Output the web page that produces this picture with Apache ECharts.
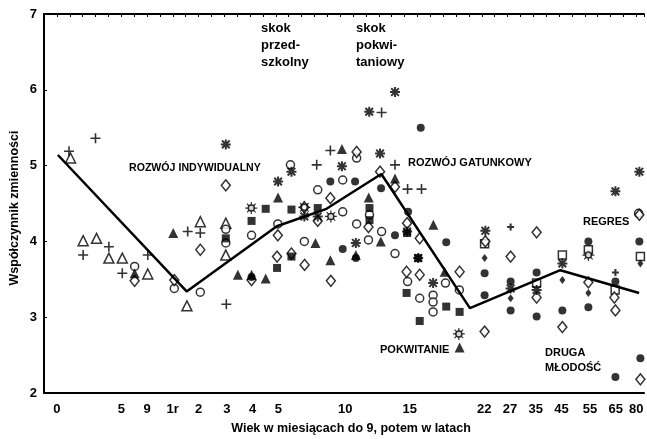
<!DOCTYPE html>
<html><head><meta charset="utf-8">
<script src="https://cdn.jsdelivr.net/npm/echarts@6/dist/echarts.min.js"></script>
<style>html,body{margin:0;padding:0;background:#fff}#c{width:647px;height:439px}</style>
</head><body><div id="c"></div>
<script>
// x positions are in axis units (one unit = one labelled age step)
const xTickLabels = ['0','5','9','1r','2','3','4','5','10','15','22','27','35','45','55','65','80'];
const xTickPos = [0.5,3.0,4.0,5.0,6.0,7.1,8.1,9.1,11.7,14.2,17.1,18.1,19.1,20.1,21.2,22.2,23.0];
const yTicks = [2,3,4,5,6,7];

const trendLine = [[0.54,5.14],[5.54,3.34],[9.04,4.20],[10.97,4.43],[13.10,4.89],[16.54,3.12],[20.05,3.62],[23.11,3.32]];

const openTriangle = [[1.03,5.10],[1.52,4.01],[2.04,4.04],[2.52,3.78],[3.04,3.78],[4.03,3.57],[5.55,3.15],[6.07,4.26],[7.06,3.82],[7.06,4.24]];
const plusMark = [[0.97,5.19],[2.00,5.36],[1.52,3.82],[2.52,3.93],[3.04,3.58],[4.03,3.82],[5.58,4.13],[6.07,4.11],[7.08,3.17],[11.12,5.20],[10.59,5.01],[13.11,5.70],[13.63,5.01],[14.12,4.69],[14.66,4.69]];
const smallPlus = [[18.12,4.19],[22.19,3.59]];
const openCircle = [[3.52,3.67],[5.06,3.38],[6.07,3.33],[7.06,3.98],[7.06,4.16],[8.06,4.08],[9.08,4.23],[9.57,5.01],[11.60,4.81],[10.63,4.68],[12.14,5.10],[11.60,4.39],[12.14,4.23],[13.11,4.13],[12.60,4.02],[13.63,3.84],[14.12,3.47],[14.59,3.25],[15.11,3.29],[15.11,3.20],[15.11,3.07],[15.59,3.45],[16.13,3.36],[23.09,4.37],[10.11,4.00],[12.64,4.35]];
const openDiamond = [[3.52,3.48],[5.06,3.49],[6.07,3.89],[7.06,4.74],[8.06,3.49],[9.08,4.08],[9.05,3.80],[9.61,3.84],[10.12,3.69],[11.14,3.48],[11.12,4.57],[12.14,5.18],[13.05,4.92],[13.63,4.72],[10.63,4.27],[10.11,4.45],[12.60,4.19],[14.10,4.24],[14.59,4.04],[14.08,3.60],[14.59,3.56],[16.14,3.60],[17.14,4.00],[19.13,4.12],[18.12,3.80],[17.11,2.81],[19.13,3.26],[20.13,2.87],[21.14,3.46],[22.15,3.26],[22.19,3.09],[23.12,4.35],[23.16,2.18]];
const filledTriangle = [[3.52,3.58],[5.02,4.11],[7.53,3.56],[8.06,3.56],[8.61,3.51],[9.09,4.58],[10.54,3.98],[11.12,3.75],[11.57,5.22],[12.11,3.82],[12.61,4.58],[13.08,4.00],[13.63,4.83],[15.12,4.22],[15.56,3.60],[16.14,2.60]];
const filledSquare = [[7.06,4.04],[8.06,4.27],[8.61,4.43],[9.05,3.65],[9.61,4.42],[9.61,3.80],[10.63,4.44],[12.64,4.44],[12.64,4.28],[14.08,3.32],[14.59,2.95],[15.62,3.14],[16.14,3.07],[14.10,4.11],[14.53,3.78]];
const filledCircle = [[11.12,4.79],[12.08,4.79],[13.09,4.70],[14.14,4.39],[14.63,5.50],[11.60,3.90],[12.11,3.78],[8.06,3.53],[13.63,4.08],[15.62,3.99],[17.11,3.58],[17.11,3.29],[18.12,3.47],[18.12,3.09],[19.13,3.59],[19.13,3.01],[20.13,3.09],[21.14,4.00],[21.14,3.13],[22.19,3.47],[22.19,2.21],[23.12,4.00],[23.16,2.46]];
const asteriskMark = [[7.06,5.28],[9.09,4.79],[9.61,4.92],[11.57,4.99],[12.63,5.71],[13.63,5.97],[13.05,5.16],[10.11,4.33],[10.63,4.33],[12.11,3.98],[14.53,3.78],[15.11,3.45],[17.14,4.14],[19.13,3.36],[20.13,3.71],[22.19,4.66],[23.12,4.92],[18.12,3.38],[14.10,4.13]];
const openSquare = [[17.11,3.97],[19.13,3.45],[20.13,3.82],[21.14,3.89],[22.18,3.36],[23.16,3.80]];
const smallDiamond = [[17.11,3.78],[18.12,3.25],[20.13,3.49],[21.14,3.32],[23.16,3.71]];
const sunMark = [[8.05,4.44],[10.11,4.45],[11.14,4.33],[16.11,2.78],[21.14,3.82]];

const FONT = '"Liberation Sans", Arial, sans-serif';
const PLUS = 'path://M4.2,0L5.8,0L5.8,4.2L10,4.2L10,5.8L5.8,5.8L5.8,10L4.2,10L4.2,5.8L0,5.8L0,4.2L4.2,4.2Z';
const PLUS_B = 'path://M3.5,0L6.5,0L6.5,3.5L10,3.5L10,6.5L6.5,6.5L6.5,10L3.5,10L3.5,6.5L0,6.5L0,3.5L3.5,3.5Z';
const AST = 'path://M0,4L10,4L10,6L0,6Z M4,0L6,0L6,10L4,10Z M1.91,0.49L9.51,8.09L8.09,9.51L0.49,1.91Z M8.09,0.49L9.51,1.91L1.91,9.51L0.49,8.09Z';
const RAYS = 'path://M0,4.5L10,4.5L10,5.5L0,5.5Z M4.5,0L5.5,0L5.5,10L4.5,10Z M1.77,1.06L8.94,8.23L8.23,8.94L1.06,1.77Z M8.23,1.06L8.94,1.77L1.77,8.94L1.06,8.23Z';

const openStyle = {color:'#fff', borderColor:'#000', borderWidth:1.5};
const fillStyle = {color:'#000'};
function sc(name, data, symbol, size, style, z){
  return {name, type:'scatter', data, symbol, symbolSize:size, itemStyle:style, z:z||2, silent:true};
}

const chart = echarts.init(document.getElementById('c'), null, {renderer:'canvas'});
chart.setOption({
  animation:false,
  backgroundColor:'#fff',
  grid:{left:44, right:0, top:14, bottom:46},
  xAxis:[{
    type:'value', min:0, max:23.3, interval:0.1, position:'bottom',
    axisLine:{show:true, onZero:false, lineStyle:{color:'#000', width:2}},
    axisTick:{show:false}, splitLine:{show:false},
    axisLabel:{color:'#000', fontWeight:'bold', fontSize:13, fontFamily:FONT, margin:10,
      formatter:function(v){const k=Math.round(v*10);const i=xTickPos.findIndex(p=>Math.round(p*10)===k);return i>=0?xTickLabels[i]:'';}}
  },{
    type:'value', min:0, max:23.3, interval:0.5, position:'top',
    axisLine:{show:true, onZero:false, lineStyle:{color:'#000', width:2}},
    axisTick:{show:true, inside:true, length:3, lineStyle:{color:'#000'}},
    axisLabel:{show:false}, splitLine:{show:false}
  }],
  yAxis:{
    type:'value', min:yTicks[0], max:yTicks[yTicks.length-1], interval:1,
    axisLine:{show:true, lineStyle:{color:'#000', width:2}},
    axisTick:{show:true, inside:true, length:3, lineStyle:{color:'#000'}},
    splitLine:{show:false},
    axisLabel:{color:'#000', fontWeight:'bold', fontSize:13, fontFamily:FONT, margin:7}
  },
  graphic:[
    {type:'text', x:15, y:208, rotation:Math.PI/2, style:{text:'Współczynnik zmienności', font:'bold 12.5px '+FONT, fill:'#000', align:'center', verticalAlign:'middle'}},
    {type:'text', x:351, y:429, style:{text:'Wiek w miesiącach do 9, potem w latach', font:'bold 12.5px '+FONT, fill:'#000', align:'center', verticalAlign:'middle'}},
    {type:'text', x:261, y:20, style:{text:'skok\nprzed-\nszkolny', font:'bold 13px '+FONT, lineHeight:17, fill:'#000'}},
    {type:'text', x:356, y:20, style:{text:'skok\npokwi-\ntaniowy', font:'bold 13px '+FONT, lineHeight:17, fill:'#000'}},
    {type:'text', x:129, y:168, style:{text:'ROZWÓJ INDYWIDUALNY', font:'bold 10.6px '+FONT, fill:'#000', verticalAlign:'middle'}},
    {type:'text', x:408, y:163, style:{text:'ROZWÓJ GATUNKOWY', font:'bold 11px '+FONT, fill:'#000', verticalAlign:'middle'}},
    {type:'text', x:583, y:222, style:{text:'REGRES', font:'bold 11px '+FONT, fill:'#000', verticalAlign:'middle'}},
    {type:'text', x:380, y:349.5, style:{text:'POKWITANIE', font:'bold 11px '+FONT, fill:'#000', verticalAlign:'middle'}},
    {type:'text', x:545, y:345.5, style:{text:'DRUGA\nMŁODOŚĆ', font:'bold 11px '+FONT, lineHeight:15, fill:'#000'}}
  ],
  series:[
    sc('rays', sunMark, RAYS, 12, fillStyle, 2),
    sc('sunCore', sunMark, 'circle', 6, openStyle, 3),
    sc('openSquare', openSquare, 'rect', 8, openStyle, 2),
    sc('openTriangle', openTriangle, 'triangle', 10, openStyle, 2),
    sc('openCircle', openCircle, 'circle', 8, openStyle, 2),
    sc('openDiamond', openDiamond, 'diamond', [9,11], openStyle, 2),
    sc('filledSquare', filledSquare, 'rect', 8, fillStyle, 3),
    sc('filledCircle', filledCircle, 'circle', 8, fillStyle, 3),
    sc('filledTriangle', filledTriangle, 'triangle', 10, fillStyle, 3),
    sc('smallDiamond', smallDiamond, 'diamond', [6,8], fillStyle, 3),
    sc('plus', plusMark, PLUS, 10, fillStyle, 3),
    sc('smallPlus', smallPlus, PLUS_B, 7, fillStyle, 3),
    sc('asterisk', asteriskMark, AST, 10, fillStyle, 3),
    {name:'trend', type:'line', data:trendLine, symbol:'none', lineStyle:{color:'#000', width:2.5}, z:4, silent:true}
  ]
});
</script>
</body></html>
